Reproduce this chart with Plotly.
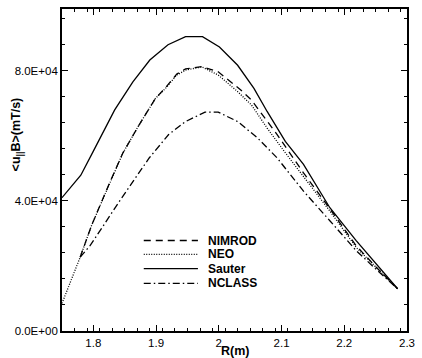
import plotly.graph_objects as go

# Sauter (solid)
R_sauter = [1.750, 1.780, 1.800, 1.834, 1.863, 1.890, 1.919, 1.947, 1.974, 2.001,
            2.030, 2.056, 2.077, 2.106, 2.135, 2.177, 2.219, 2.250, 2.285]
V_sauter = [41.0e3, 47.9e3, 55.3e3, 68.0e3, 76.6e3, 83.3e3, 88.0e3, 90.5e3, 90.5e3, 87.3e3,
            81.7e3, 74.6e3, 67.5e3, 58.3e3, 51.2e3, 37.9e3, 27.8e3, 20.7e3, 13.0e3]

# NEO (dotted)
R_neo = [1.750, 1.779, 1.797, 1.826, 1.847, 1.873, 1.899, 1.915, 1.933, 1.947, 1.973,
         1.999, 2.030, 2.052, 2.077, 2.104, 2.135, 2.177, 2.219, 2.250, 2.285]
V_neo = [8.5e3, 22.7e3, 32.4e3, 45.6e3, 54.7e3, 63.4e3, 71.5e3, 74.6e3, 78.7e3, 80.2e3, 81.2e3,
         78.7e3, 73.6e3, 69.5e3, 62.4e3, 55.3e3, 47.6e3, 36.9e3, 25.7e3, 19.6e3, 13.0e3]

# NIMROD (dashed)
R_nimrod = [1.779, 1.797, 1.826, 1.847, 1.873, 1.899, 1.915, 1.933, 1.947, 1.973,
            1.999, 2.035, 2.052, 2.077, 2.093, 2.135, 2.177, 2.219, 2.250, 2.285]
V_nimrod = [22.7e3, 32.4e3, 45.6e3, 54.7e3, 63.4e3, 71.5e3, 74.8e3, 79.0e3, 80.6e3, 81.3e3,
            79.7e3, 74.1e3, 71.0e3, 64.4e3, 60.4e3, 48.6e3, 37.6e3, 26.2e3, 19.8e3, 13.0e3]

# NCLASS (dash-dot)
R_nclass = [1.779, 1.795, 1.842, 1.889, 1.920, 1.947, 1.978, 1.999, 2.030, 2.062,
            2.093, 2.135, 2.177, 2.219, 2.250, 2.285]
V_nclass = [22.7e3, 26.3e3, 40.0e3, 53.2e3, 60.4e3, 64.4e3, 67.3e3, 67.3e3, 64.4e3, 59.3e3,
            53.2e3, 43.0e3, 33.9e3, 24.7e3, 19.1e3, 13.0e3]

x_ticks = [1.8, 1.9, 2.0, 2.1, 2.2, 2.3]
x_ticktext = ["1.8", "1.9", "2", "2.1", "2.2", "2.3"]
y_ticks = [0, 40000, 80000]
y_ticktext = ["0.0E+00", "4.0E+04", "8.0E+04"]
y_minor = [8000 * i for i in range(13)]

series = [
    ("NIMROD", R_nimrod, V_nimrod, "7px,5px"),
    ("NEO", R_neo, V_neo, "1px,1.5px"),
    ("Sauter", R_sauter, V_sauter, "solid"),
    ("NCLASS", R_nclass, V_nclass, "7px,3px,1.5px,3px"),
]

fig = go.Figure()
lw = 1.3
for name, xs, ys, dash in series:
    fig.add_trace(go.Scatter(x=xs, y=ys, mode="lines", name=name, showlegend=False,
                             line=dict(color="black", width=lw, dash=dash)))

# hand-drawn legend (compact rows like the reference)
legend_rows_y = [0.281, 0.238, 0.194, 0.148]
shapes = []
annotations = []
for (name, _, _, dash), yy in zip(series, legend_rows_y):
    shapes.append(dict(type="line", xref="paper", yref="paper",
                       x0=0.237, x1=0.394, y0=yy, y1=yy,
                       line=dict(color="black", width=lw, dash=dash)))
    annotations.append(dict(text="<b>%s</b>" % name, x=0.417, y=yy,
                            xref="paper", yref="paper", xanchor="left",
                            yanchor="middle", showarrow=False,
                            font=dict(size=12)))

annotations += [
    dict(text="<b>R(m)</b>", x=0.5, y=-0.062, xref="paper", yref="paper",
         xanchor="center", yanchor="middle", showarrow=False,
         font=dict(size=12.5)),
    dict(text="<b>&lt;u<sub>||</sub>B&gt;(mT/s)</b>", x=-0.13, y=0.611,
         xref="paper", yref="paper", xanchor="center", yanchor="middle",
         textangle=-90, showarrow=False, font=dict(size=12.5)),
]

fig.update_layout(
    width=422, height=358,
    margin=dict(l=62, r=10, t=7, b=27),
    paper_bgcolor="white", plot_bgcolor="white",
    font=dict(family="Liberation Sans, Arial, sans-serif", size=11.5, color="black"),
    showlegend=False,
    xaxis=dict(range=[1.75, 2.3], tickvals=x_ticks, ticktext=x_ticktext,
               ticks="inside", ticklen=6, tickwidth=1, tickcolor="black",
               showline=True, linecolor="black", linewidth=1.5, mirror="ticks",
               showgrid=False, zeroline=False,
               minor=dict(ticks="inside", ticklen=3, dtick=0.02, tick0=1.75,
                          tickcolor="black", showgrid=False)),
    yaxis=dict(range=[0, 99000], tickvals=y_ticks, ticktext=y_ticktext,
               ticks="inside", ticklen=6, tickwidth=1, tickcolor="black",
               showline=True, linecolor="black", linewidth=1.8, mirror="ticks",
               showgrid=False, zeroline=False,
               minor=dict(ticks="inside", ticklen=3, tickvals=y_minor,
                          tickcolor="black", showgrid=False)),
    shapes=shapes,
    annotations=annotations,
)

fig.write_html("out.html")
